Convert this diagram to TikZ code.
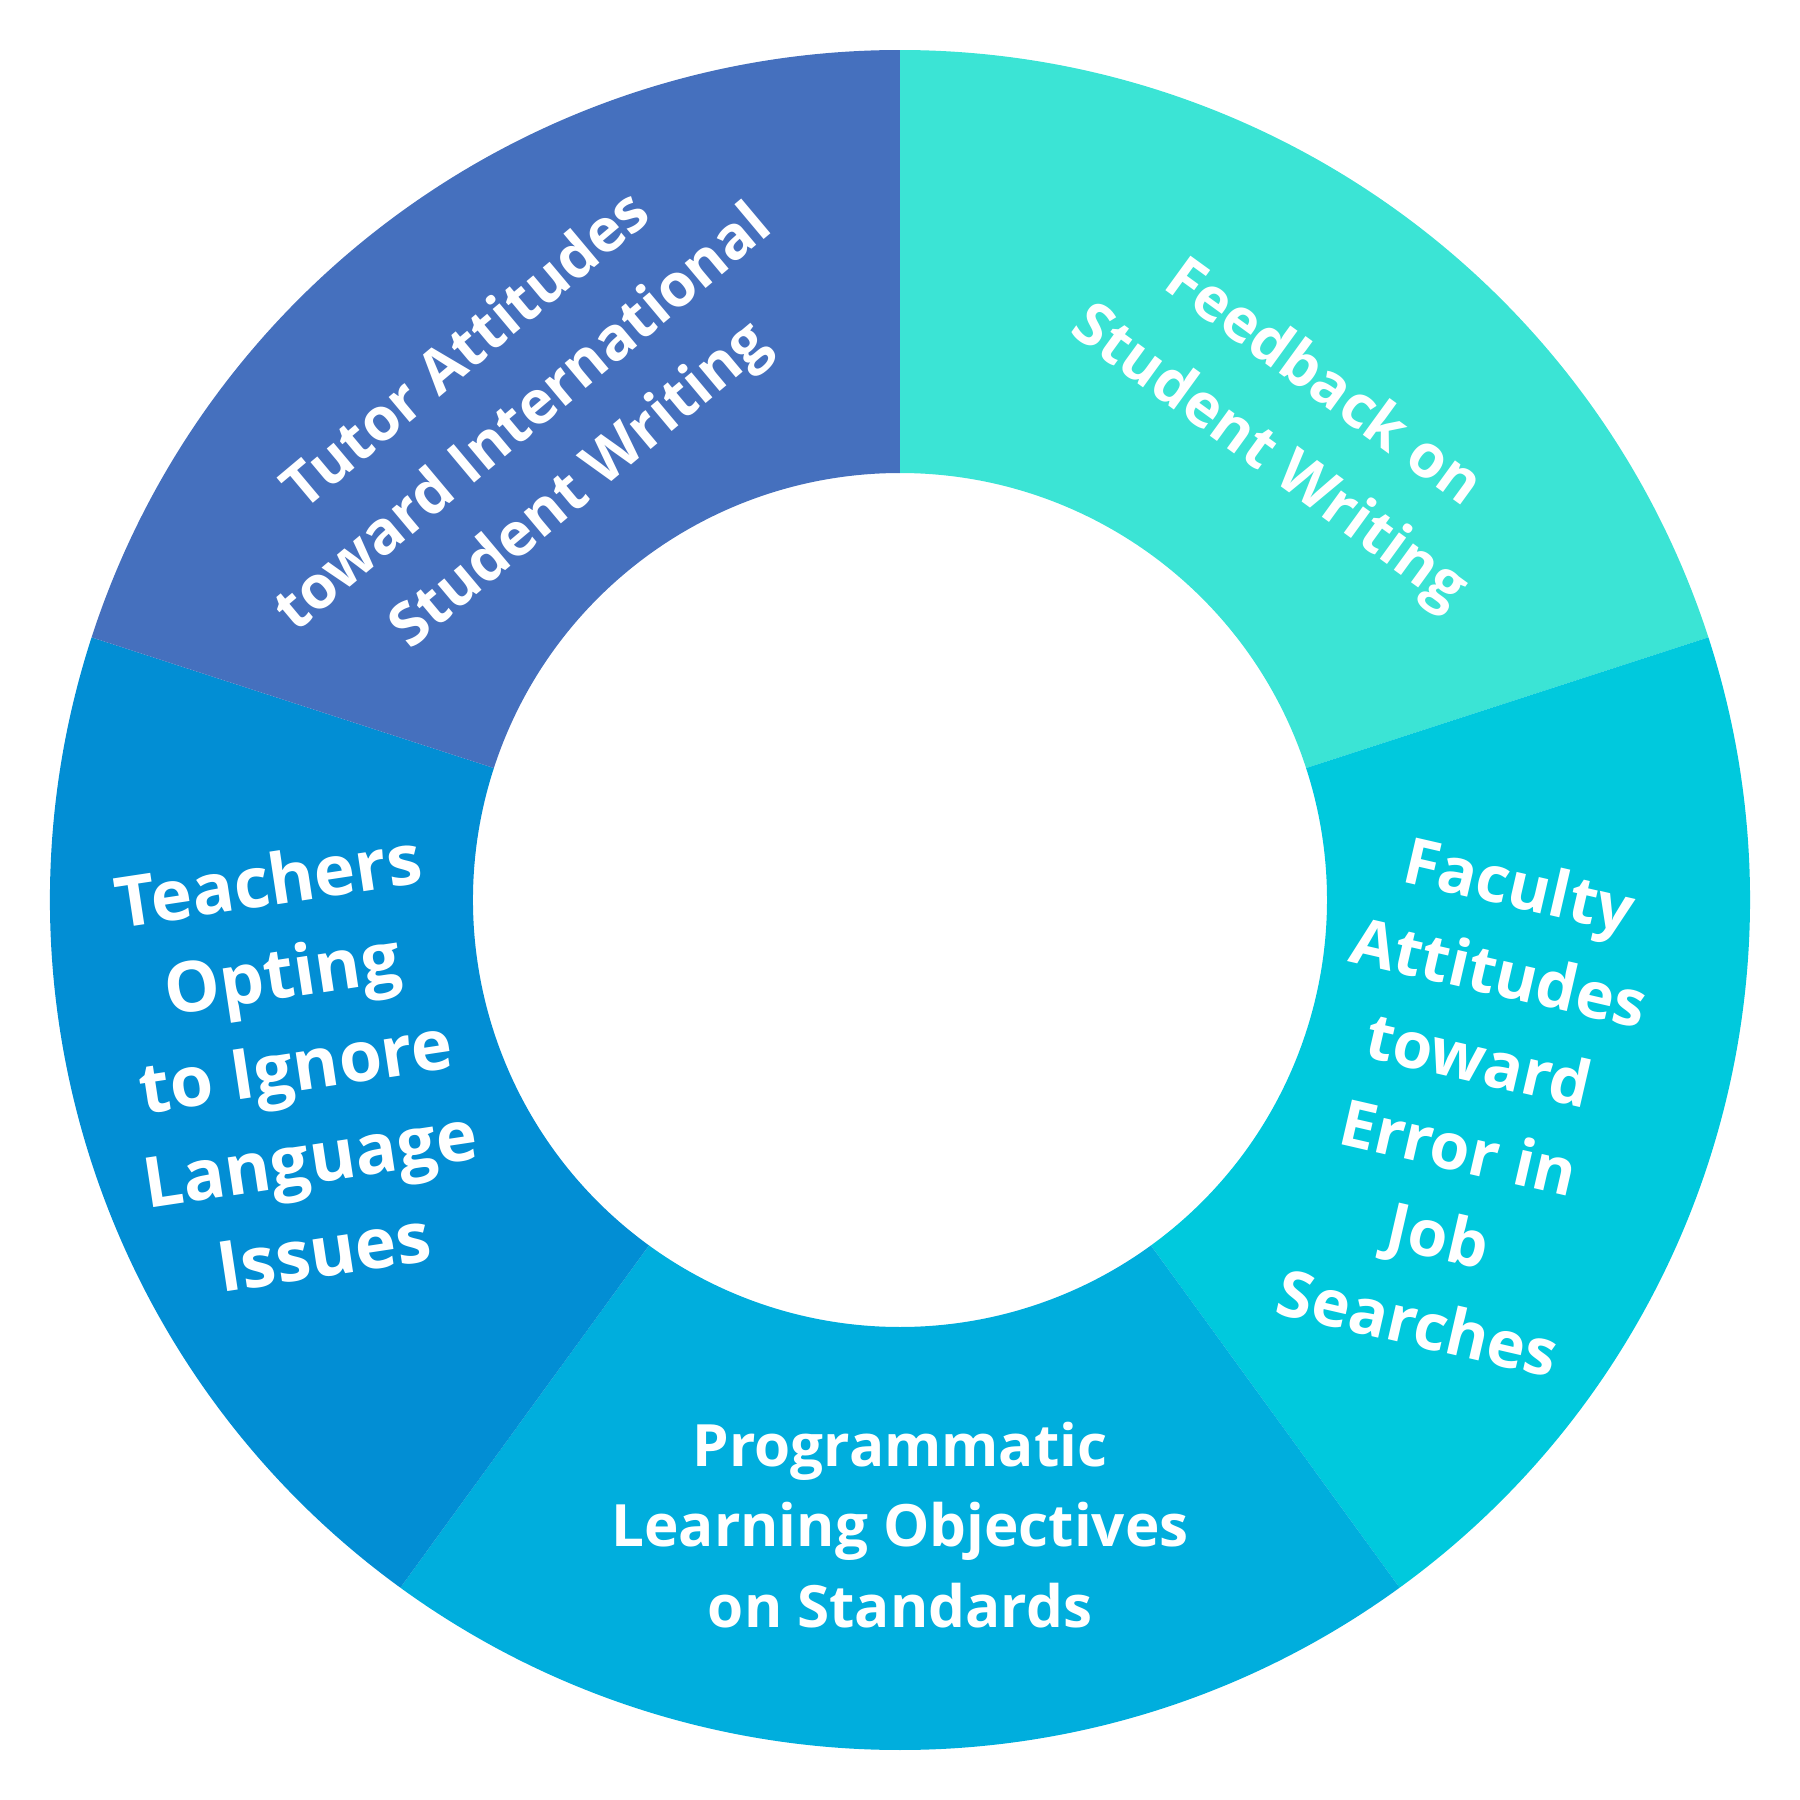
\documentclass[tikz,border=0pt]{standalone}
\usepackage{fontspec}
\setmainfont{Open Sans}
\definecolor{segA}{RGB}{59,228,213}
\definecolor{segB}{RGB}{0,201,221}
\definecolor{segC}{RGB}{0,174,221}
\definecolor{segD}{RGB}{2,142,212}
\definecolor{segE}{RGB}{69,112,190}
\tikzset{
  lbl/.style={text=white, align=center, inner sep=0pt, font=\bfseries},
}
\newcommand{\donutseg}[3]{%
  \fill[#3] (#1:8.5) arc[start angle=#1, end angle=#2, radius=8.5]
    -- (#2:4.27) arc[start angle=#2, end angle=#1, radius=4.27] -- cycle;}
\begin{document}
\begin{tikzpicture}
\useasboundingbox (-9,-9) rectangle (9,9);
\donutseg{18}{90}{segA}
\donutseg{-54}{18}{segB}
\donutseg{-126}{-54}{segC}
\donutseg{162}{234}{segD}
\donutseg{90}{162}{segE}
\node[lbl, rotate=40, font=\bfseries\fontsize{17}{25}\selectfont] (tl) at (-3.75,4.8)
  {Tutor Attitudes\\toward International\\Student Writing};
\node[lbl, rotate=-36, font=\bfseries\fontsize{17}{25.9}\selectfont] (tr) at (3.95,4.78)
  {Feedback on\\Student Writing};
\node[lbl, rotate=-13, font=\bfseries\fontsize{18.3}{25.6}\selectfont] (rt) at (5.69,-2.03)
  {Faculty\\Attitudes\\toward\\Error in\\Job\\Searches};
\node[lbl, font=\bfseries\fontsize{16.6}{22.8}\selectfont] (bt) at (0,-6.25)
  {Programmatic\\Learning Objectives\\on Standards};
\node[lbl, rotate=8.6, font=\bfseries\fontsize{19.9}{26.7}\selectfont] (lf) at (-6.04,-1.65)
  {Teachers\\Opting\\to Ignore\\Language\\Issues};
\end{tikzpicture}
\end{document}
